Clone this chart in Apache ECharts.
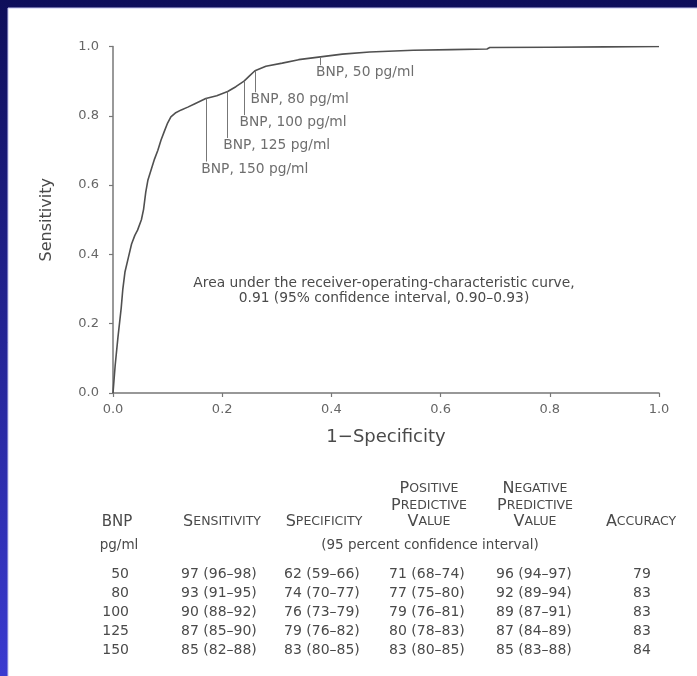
<!DOCTYPE html>
<html>
<head>
<meta charset="utf-8">
<script src="https://cdn.jsdelivr.net/npm/echarts@6/dist/echarts.min.js"></script>
<style>
  html, body { margin: 0; padding: 0; }
  #chart { width: 697px; height: 676px; }
</style>
</head>
<body>
<div id="chart"></div>
<script>
// ROC curve (1 - specificity, sensitivity)
const fpr = [0, 0.004, 0.009, 0.015, 0.018, 0.022, 0.028, 0.034, 0.040, 0.045,
  0.052, 0.056, 0.060, 0.064, 0.070, 0.076, 0.082, 0.088, 0.094, 0.100,
  0.106, 0.114, 0.125, 0.137, 0.150, 0.17, 0.19, 0.21, 0.225, 0.24,
  0.25, 0.26, 0.28, 0.31, 0.34, 0.38, 0.42, 0.47, 0.55, 0.62,
  0.685, 0.69, 0.80, 0.90, 1.0];
const tpr = [0, 0.08, 0.16, 0.245, 0.30, 0.35, 0.39, 0.43, 0.455, 0.47,
  0.50, 0.53, 0.58, 0.615, 0.645, 0.675, 0.70, 0.73, 0.755, 0.779,
  0.797, 0.808, 0.817, 0.825, 0.835, 0.85, 0.858, 0.87, 0.884, 0.90,
  0.915, 0.93, 0.943, 0.952, 0.962, 0.97, 0.978, 0.984, 0.989, 0.991,
  0.993, 0.997, 0.998, 0.999, 1.0];

// BNP cut-offs and table values
const bnpCutoffs = [50, 80, 100, 125, 150];
const sensPoint = [97, 93, 90, 87, 85];
const specPoint = [62, 74, 76, 79, 83];
const dropTo = [0.946, 0.868, 0.802, 0.736, 0.668]; // where the pointer lines end

const tblSens = ['97 (96–98)', '93 (91–95)', '90 (88–92)', '87 (85–90)', '85 (82–88)'];
const tblSpec = ['62 (59–66)', '74 (70–77)', '76 (73–79)', '79 (76–82)', '83 (80–85)'];
const tblPpv = ['71 (68–74)', '77 (75–80)', '79 (76–81)', '80 (78–83)', '83 (80–85)'];
const tblNpv = ['96 (94–97)', '92 (89–94)', '89 (87–91)', '87 (84–89)', '85 (83–88)'];
const tblAcc = ['79', '83', '83', '83', '84'];

const FONT = 'DejaVu Sans';
const TXT = '#4a4a4a';
const AXIS = '#777';

const chart = echarts.init(document.getElementById('chart'), null, { renderer: 'canvas' });

const curve = fpr.map((x, i) => [x, tpr[i]]);
const cutPts = bnpCutoffs.map((_, i) => [1 - specPoint[i] / 100, sensPoint[i] / 100]);

// small caps as rich text
const sc = (w) => w.split(' ').map(p => '{a|' + p[0] + '}{b|' + p.slice(1).toUpperCase() + '}').join(' ');
const scRich = {
  a: { fontFamily: FONT, fontSize: 16, fill: TXT, color: TXT },
  b: { fontFamily: FONT, fontSize: 12.5, fill: TXT, color: TXT }
};

const graphics = [
  {
    type: 'rect', z: -100, silent: true,
    shape: { x: 8, y: 8, width: 697, height: 676 },
    style: { fill: '#fff', stroke: '#c4c4f0', lineWidth: 1 }
  },
  {
    type: 'text', x: 384, y: 276,
    style: {
      text: 'Area under the receiver-operating-characteristic curve,\n0.91 (95% confidence interval, 0.90–0.93)',
      fontFamily: FONT, fontSize: 13.8, lineHeight: 15, fill: TXT, textAlign: 'center'
    }
  }
];

// table header
const headY = 522;
const hdr = (x, y, text) => ({
  type: 'text', x: x, y: y,
  style: { text: text, rich: scRich, fontFamily: FONT, fontSize: 14, fill: TXT,
    textAlign: 'center', textVerticalAlign: 'middle' }
});
graphics.push(
  { type: 'text', x: 117, y: headY, style: { text: 'BNP', fontFamily: FONT, fontSize: 15, fill: TXT, textAlign: 'center', textVerticalAlign: 'middle' } },
  { type: 'text', x: 119, y: 545, style: { text: 'pg/ml', fontFamily: FONT, fontSize: 13.5, fill: TXT, textAlign: 'center', textVerticalAlign: 'middle' } },
  hdr(222, headY, sc('Sensitivity')),
  hdr(324, headY, sc('Specificity')),
  hdr(429, 489, sc('Positive')), hdr(429, 506, sc('Predictive')), hdr(429, headY, sc('Value')),
  hdr(535, 489, sc('Negative')), hdr(535, 506, sc('Predictive')), hdr(535, headY, sc('Value')),
  hdr(641, headY, sc('Accuracy')),
  { type: 'text', x: 430, y: 545, style: { text: '(95 percent confidence interval)', fontFamily: FONT, fontSize: 13.5, fill: TXT, textAlign: 'center', textVerticalAlign: 'middle' } }
);

const rowY = [574, 593, 612, 631, 650];
const cell = (x, y, text, align) => ({
  type: 'text', x: x, y: y,
  style: { text: text, fontFamily: FONT, fontSize: 14, fill: TXT, textAlign: align, textVerticalAlign: 'middle' }
});
bnpCutoffs.forEach((b, i) => {
  graphics.push(
    cell(129, rowY[i], String(b), 'right'),
    cell(181, rowY[i], tblSens[i], 'left'),
    cell(284, rowY[i], tblSpec[i], 'left'),
    cell(389, rowY[i], tblPpv[i], 'left'),
    cell(496, rowY[i], tblNpv[i], 'left'),
    cell(642, rowY[i], tblAcc[i], 'center')
  );
});

const option = {
  animation: false,
  backgroundColor: {
    type: 'linear', x: 0, y: 0, x2: 0, y2: 1,
    colorStops: [{ offset: 0, color: '#0e0e5a' }, { offset: 1, color: '#3a3ad0' }]
  },
  textStyle: { fontFamily: FONT },
  grid: { left: 113, right: 38, top: 46.5, bottom: 283, containLabel: false },
  xAxis: {
    type: 'value', min: 0, max: 1, interval: 0.2,
    name: '1−Specificity', nameLocation: 'middle', nameGap: 35,
    nameTextStyle: { fontFamily: FONT, fontSize: 18, color: TXT },
    axisLine: { show: true, lineStyle: { color: AXIS, width: 1.5 } },
    axisTick: { show: true, length: 4, lineStyle: { color: AXIS, width: 1.2 } },
    axisLabel: { margin: 10, fontSize: 13, color: '#666', fontFamily: FONT, formatter: v => v.toFixed(1) },
    splitLine: { show: false }
  },
  yAxis: {
    type: 'value', min: 0, max: 1, interval: 0.2, offset: 6,
    name: 'Sensitivity', nameLocation: 'middle', nameGap: 52,
    nameTextStyle: { fontFamily: FONT, fontSize: 16, color: TXT },
    axisLine: { show: true, lineStyle: { color: AXIS, width: 1.5 } },
    axisTick: { show: true, length: 4, lineStyle: { color: AXIS, width: 1.2 } },
    axisLabel: { margin: 8, fontSize: 13, color: '#666', fontFamily: FONT, formatter: v => v.toFixed(1) },
    splitLine: { show: false }
  },
  series: [
    {
      type: 'line', data: curve, showSymbol: false, smooth: false,
      lineStyle: { color: '#505050', width: 1.6 },
      markLine: {
        silent: true, symbol: 'none', animation: false,
        label: { show: false },
        lineStyle: { color: '#777', width: 1, type: 'solid' },
        data: cutPts.map((p, i) => [{ coord: p }, { coord: [p[0], dropTo[i]] }])
      }
    },
    {
      type: 'scatter', symbolSize: 1, itemStyle: { color: 'rgba(0,0,0,0)' },
      data: cutPts.map((p, i) => [p[0], dropTo[i]]),
      label: {
        show: true, position: [-4, 1], align: 'left', verticalAlign: 'top',
        fontFamily: FONT, fontSize: 13.8, color: TXT,
        formatter: (pt) => 'BNP, ' + bnpCutoffs[pt.dataIndex] + ' pg/ml'
      }
    }
  ],
  graphic: graphics
};

chart.setOption(option);
</script>
</body>
</html>
